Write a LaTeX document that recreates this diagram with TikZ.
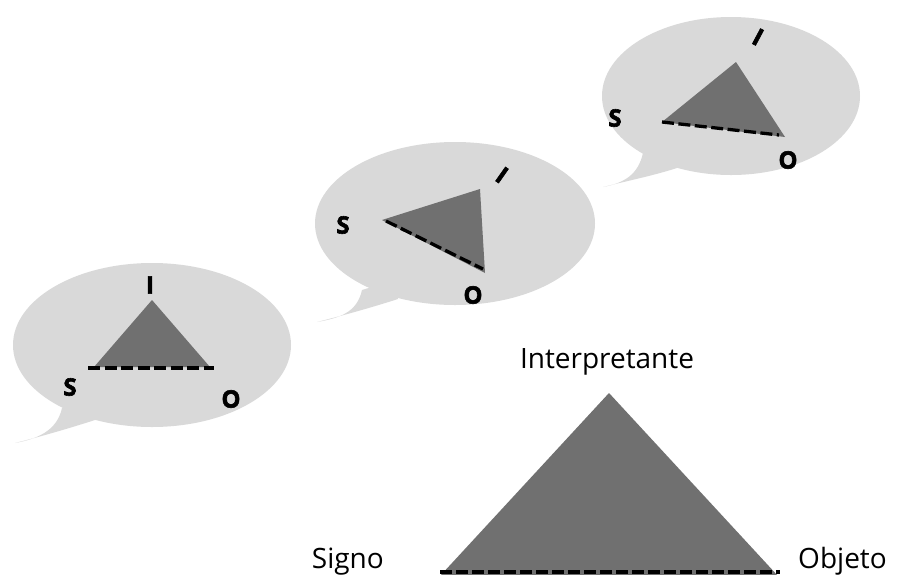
\documentclass[tikz,border=0pt]{standalone}
\usepackage{fontspec}
\setmainfont{Open Sans}
\newfontfamily\heavyfont{Open Sans}[FakeBold=2.5]
\definecolor{bubble}{RGB}{217,217,217}
\definecolor{tri}{RGB}{112,112,112}
\begin{document}
\begin{tikzpicture}[x=1pt,y=-1pt,
  bubblefill/.style={fill=bubble,draw=none},
  trifill/.style={fill=tri,draw=none},
  dashline/.style={draw=black,line width=3.3pt,dash pattern=on 12pt off 4.5pt},
  bigdash/.style={draw=black,line width=3.8pt,dash pattern=on 12pt off 4pt},
  lbl/.style={font=\heavyfont\bfseries\fontsize{24}{24}\selectfont,inner sep=0pt},
  big/.style={font=\fontsize{28}{28}\selectfont,inner sep=0pt}]
\useasboundingbox (0,0) rectangle (908,574);
\fill[white] (0,0) rectangle (908,574);

% bubble 1
\path[bubblefill] (15,443) .. controls (37,439) and (57,431) .. (62,408) -- (90,400) -- (95,420) .. controls (70,428) and (43,436) .. (15,443) -- cycle;
\path[bubblefill] (152,345) ellipse [x radius=139, y radius=82];
\path[trifill] (152,300) -- (94,367) -- (210,367) -- cycle;
\draw[dashline] (88,368) -- (214,368);
\node[lbl] (i1) at (150,285) {I};
\node[lbl] (s1) at (70,387) {S};
\node[lbl] (o1) at (231,399) {O};

% bubble 2
\path[bubblefill] (317,322) .. controls (339,318) and (357,313) .. (362,290) -- (395,280) -- (398,299) .. controls (373,307) and (345,315) .. (317,322) -- cycle;
\path[bubblefill] (455,223.5) ellipse [x radius=140, y radius=81.5];
\path[trifill] (382,220) -- (480,189) -- (485,273) -- cycle;
\draw[dashline] (386,221) -- (483,269);
\node[lbl] (s2) at (343,225) {S};
\node[lbl,rotate=-35] (i2) at (502,175) {I};
\node[lbl] (o2) at (473,295) {O};

% bubble 3
\path[bubblefill] (603,187) .. controls (624,183) and (638,175) .. (643,153) -- (680,150) -- (680,167) .. controls (656,175) and (631,180) .. (603,187) -- cycle;
\path[bubblefill] (731,96) ellipse [x radius=129, y radius=79];
\path[trifill] (662,122) -- (736,62) -- (785,137) -- cycle;
\draw[dashline] (662,122) -- (779,135);
\node[lbl] (s3) at (615,118) {S};
\node[lbl,rotate=-28] (i3) at (758,37) {I};
\node[lbl] (o3) at (788,160) {O};

% big triangle
\path[trifill] (609,393) -- (440,576) -- (778,576) -- cycle;
\draw[bigdash] (440,572) -- (780,572);
\node[big,anchor=base] (interp) at (607,368) {Interpretante};
\node[big,anchor=base east] (signo) at (384,568) {Signo};
\node[big,anchor=base west] (objeto) at (798,568) {Objeto};
\end{tikzpicture}
\end{document}
